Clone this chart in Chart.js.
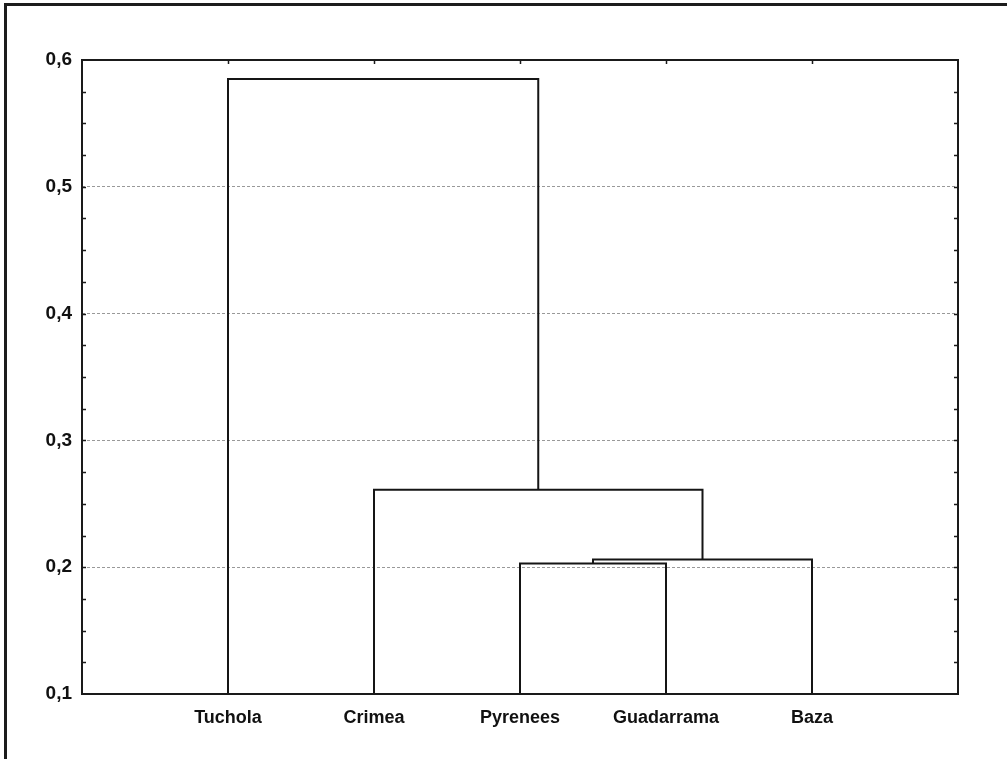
<!DOCTYPE html>
<html>
<head>
<meta charset="utf-8">
<script src="https://cdn.jsdelivr.net/npm/chart.js@4"></script>
<style>
  html, body { margin: 0; padding: 0; background: #fff; }
  body { width: 1007px; height: 759px; position: relative; overflow: hidden; }
  .frame {
    position: absolute; left: 4px; top: 3px; right: 0; bottom: 0;
    border-left: 3px solid #1c1c1c; border-top: 3px solid #1c1c1c;
  }
  #wrap { position: absolute; left: 0; top: 0; width: 1007px; height: 759px; }
</style>
</head>
<body>
<div class="frame"></div>
<div id="wrap"><canvas id="myChart" width="1007" height="759"></canvas></div>
<script>
// leaves of the dendrogram, left to right
const categories = ['Tuchola', 'Crimea', 'Pyrenees', 'Guadarrama', 'Baza'];

// linkage: clusters 0-4 are the leaves, each merge makes cluster 5, 6, 7, 8
const mergeLeft = [2, 5, 1, 0];
const mergeRight = [3, 4, 6, 7];
const mergeHeights = [0.203, 0.206, 0.261, 0.585];

// y axis
const yMin = 0.1;
const yMax = 0.6;
const yStep = 0.1;
const yMinorStep = 0.025;

// positions and heights of every cluster
let clusterX = categories.map((c, i) => i + 1);
let clusterH = categories.map(() => yMin);

let datasets = [];
for (let i = 0; i < mergeHeights.length; i++) {
  let a = mergeLeft[i], b = mergeRight[i], h = mergeHeights[i];
  datasets.push({
    data: [
      { x: clusterX[a], y: clusterH[a] },
      { x: clusterX[a], y: h },
      { x: clusterX[b], y: h },
      { x: clusterX[b], y: clusterH[b] }
    ],
    showLine: true,
    borderColor: '#151515',
    borderWidth: 2,
    pointRadius: 0,
    tension: 0
  });
  clusterX.push((clusterX[a] + clusterX[b]) / 2);
  clusterH.push(h);
}

// frame around the plot plus the small inward ticks
const frameTicks = {
  id: 'frameTicks',
  afterDatasetsDraw(chart) {
    const { ctx, chartArea: a, scales } = chart;
    const y = scales.y, x = scales.x;
    ctx.save();
    ctx.strokeStyle = '#1a1a1a';
    ctx.lineWidth = 2;
    ctx.strokeRect(a.left, a.top, a.right - a.left, a.bottom - a.top);
    ctx.lineWidth = 1.5;
    ctx.beginPath();
    for (let v = yMin + yMinorStep; v < yMax - 0.001; v += yMinorStep) {
      let py = Math.round(y.getPixelForValue(v)) + 0.5;
      ctx.moveTo(a.left, py); ctx.lineTo(a.left + 4, py);
      ctx.moveTo(a.right, py); ctx.lineTo(a.right - 4, py);
    }
    categories.forEach((c, i) => {
      let px = Math.round(x.getPixelForValue(i + 1)) + 0.5;
      ctx.moveTo(px, a.top); ctx.lineTo(px, a.top + 4);
    });
    ctx.stroke();
    ctx.restore();
  }
};

const ctx = document.getElementById('myChart');

new Chart(ctx, {
  type: 'scatter',
  data: { datasets: datasets },
  options: {
    responsive: false,
    animation: false,
    layout: { padding: { left: 0, right: 49, top: 60, bottom: 0 } },
    scales: {
      x: {
        type: 'linear',
        min: 0,
        max: categories.length + 1,
        afterBuildTicks: function (scale) {
          scale.ticks = categories.map((c, i) => ({ value: i + 1 }));
        },
        afterFit: function (scale) { scale.height = 65; },
        ticks: {
          autoSkip: false,
          maxRotation: 0,
          padding: 13,
          color: '#111',
          font: { family: "'Liberation Sans', Arial, sans-serif", size: 18, weight: 'bold' },
          callback: function (value) { return categories[value - 1]; }
        },
        grid: { display: false, drawTicks: false },
        border: { display: false }
      },
      y: {
        min: yMin,
        max: yMax,
        afterFit: function (scale) { scale.width = 82; },
        ticks: {
          stepSize: yStep,
          padding: 10,
          color: '#111',
          font: { family: "'Liberation Sans', Arial, sans-serif", size: 19, weight: 'bold' },
          callback: function (value) { return value.toFixed(1).replace('.', ','); }
        },
        grid: {
          drawTicks: false,
          lineWidth: 1,
          color: function (c) {
            let v = c.tick ? c.tick.value : 0;
            return (v > yMin + 0.01 && v < yMax - 0.01) ? '#999999' : 'rgba(0,0,0,0)';
          }
        },
        border: { display: false, dash: [3, 2] }
      }
    },
    plugins: {
      legend: { display: false },
      tooltip: { enabled: false }
    }
  },
  plugins: [frameTicks]
});
</script>
</body>
</html>
